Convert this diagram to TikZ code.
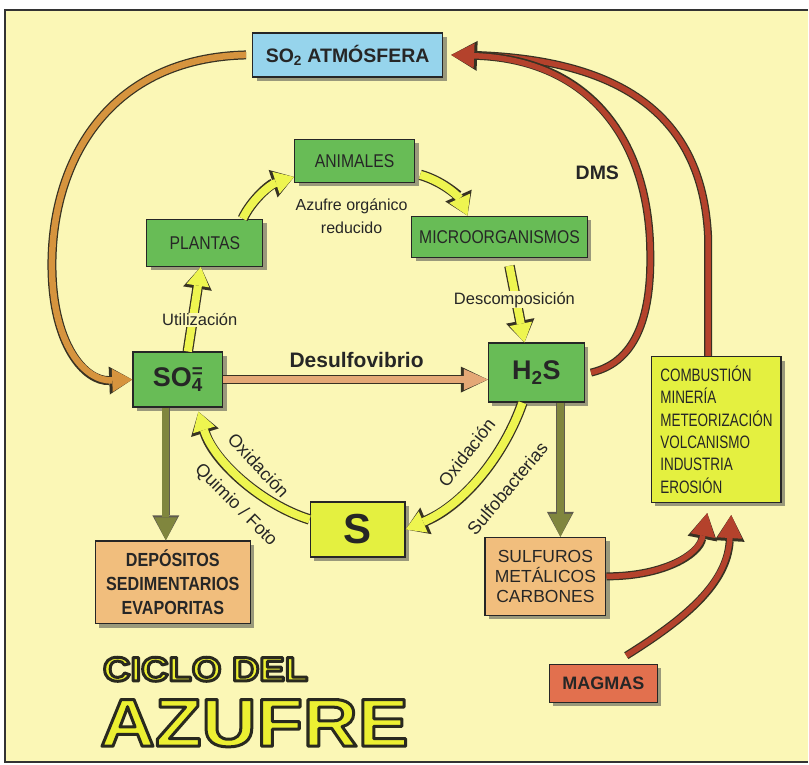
\documentclass[tikz,border=0pt]{standalone}
\usepackage{fontspec}
\setmainfont{Liberation Sans}
\newfontfamily\narrowsf[FakeStretch=0.85]{Liberation Sans}
\newfontfamily\condsf[FakeStretch=0.75]{Liberation Sans}
\newfontfamily\widesf[FakeStretch=1.12]{Liberation Sans}
\usepackage{xcolor}
\usetikzlibrary{arrows.meta, shadows}

\definecolor{paper}{RGB}{251,247,182}
\definecolor{leafgreen}{RGB}{104,188,86}
\definecolor{skyblue}{RGB}{150,212,236}
\definecolor{sulfuryellow}{RGB}{228,240,64}
\definecolor{tanbox}{RGB}{241,190,125}
\definecolor{magmared}{RGB}{226,112,78}
\definecolor{arrowyellow}{RGB}{238,245,80}
\definecolor{arrowtan}{RGB}{228,168,118}
\definecolor{arrowolive}{RGB}{128,134,62}
\definecolor{arroworange}{RGB}{214,148,62}
\definecolor{arrowred}{RGB}{180,66,44}
\definecolor{arrowedge}{RGB}{55,50,35}
\definecolor{titlefill}{RGB}{236,240,50}

% outlined title letters (fill + stroke render mode)
\newcommand{\titleoutline}[1]{\special{pdf:code 2 Tr 3 w 1 j 0.16 0.16 0.12 RG}#1\special{pdf:code 0 Tr}}

\begin{document}
\begin{tikzpicture}[x=1pt, y=-1pt,
    box/.style={rectangle, draw=black!85, line width=1.3pt, inner sep=0pt,
        align=center, text=black!85,
        drop shadow={shadow xshift=4pt, shadow yshift=-4pt, fill=black!70, opacity=.55}},
    greenbox/.style={box, fill=leafgreen, font=\narrowsf\fontsize{18.5}{20}\selectfont},
    tanfill/.style={box, fill=tanbox},
    lbl/.style={inner sep=1pt, text=black!85, font=\fontsize{16.5}{19}\selectfont},
    rotlbl/.style={inner sep=0pt, text=black!85, font=\fontsize{18}{20}\selectfont},
    yarrow/.style={draw=arrowyellow, line width=8pt,
        -{Triangle[length=19pt,width=23pt,line width=0pt]},
        preaction={draw=arrowedge, line width=10.5pt,
            -{Triangle[length=22pt,width=29pt,line width=0pt]}}},
    tanarrow/.style={draw=arrowtan, line width=6.5pt,
        -{Triangle[length=24pt,width=21pt,line width=0pt]},
        preaction={draw=arrowedge, line width=9pt,
            -{Triangle[length=27pt,width=26pt,line width=0pt]}}},
    olivearrow/.style={draw=arrowolive, line width=7pt,
        -{Triangle[length=23pt,width=23pt,line width=0pt]},
        preaction={draw=arrowedge!80, line width=8.5pt,
            -{Triangle[length=25pt,width=27pt,line width=0pt]}}},
    orangearrow/.style={draw=arroworange, line width=6.5pt,
        -{Triangle[length=20pt,width=23pt,line width=0pt]},
        preaction={draw=arrowedge, line width=9pt,
            -{Triangle[length=23pt,width=28pt,line width=0pt]}}},
    redline/.style={draw=arrowred, line width=5.5pt,
        preaction={draw=arrowedge, line width=8pt}},
    redarrow/.style={draw=arrowred, line width=5.5pt,
        -{Triangle[length=23pt,width=25pt,line width=0pt]},
        preaction={draw=arrowedge, line width=8pt,
            -{Triangle[length=26pt,width=30pt,line width=0pt]}}}
]
% frame
\fill[white] (0,0) rectangle (809,765);
\fill[paper] (5,10) rectangle (809,763);
\draw[line width=1.8pt, black!80] (809,10) -- (5,10) -- (5,763) -- (809,763);

% boxes
\node[box, fill=skyblue, minimum width=190pt, minimum height=44pt,
    font=\bfseries\fontsize{19.5}{21}\selectfont] (so2) at (348,55) {SO\textsubscript{2} ATMÓSFERA};
\node[greenbox, minimum width=120pt, minimum height=43pt] (animales) at (355,161) {ANIMALES};
\node[greenbox, minimum width=116pt, minimum height=47pt] (plantas) at (205,243) {PLANTAS};
\node[greenbox, minimum width=176pt, minimum height=41pt] (micro) at (500,237) {MICROORGANISMOS};
\node[greenbox, minimum width=90pt, minimum height=55pt,
    font=\bfseries\fontsize{27}{28}\selectfont] (so4) at (178,380) {SO\rlap{\textsuperscript{=}}\textsubscript{4}};
\node[greenbox, minimum width=96pt, minimum height=59pt,
    font=\bfseries\fontsize{27}{28}\selectfont] (h2s) at (537,373) {H\textsubscript{2}S};
\node[box, fill=sulfuryellow, minimum width=95pt, minimum height=55pt,
    font=\bfseries\fontsize{42}{44}\selectfont] (sbox) at (358,530) {S};
\node[tanfill, minimum width=155pt, minimum height=83pt,
    font=\narrowsf\bfseries\fontsize{19}{24}\selectfont] (depos) at (173,583) {DEPÓSITOS\\SEDIMENTARIOS\\EVAPORITAS};
\node[tanfill, minimum width=121pt, minimum height=78pt,
    font=\fontsize{17.5}{20}\selectfont] (sulf) at (546,577) {SULFUROS\\METÁLICOS\\CARBONES};
\node[box, fill=sulfuryellow, align=left, inner xsep=9pt, text width=112pt, minimum height=146pt,
    font=\condsf\fontsize{18}{22.4}\selectfont] (comb) at (717,430)
    {COMBUSTIÓN\\MINERÍA\\METEORIZACIÓN\\VOLCANISMO\\INDUSTRIA\\EROSIÓN};
\node[box, fill=magmared, minimum width=108pt, minimum height=38pt,
    font=\bfseries\fontsize{18}{20}\selectfont] (magmas) at (604,684) {MAGMAS};

% big cycle
\draw[orangearrow] ([xshift=-6pt]so2.west) .. controls (110,58) and (52,160) .. (52,265)
    .. controls (52,345) and (85,382) .. (so4.west);
\draw[redline] ([xshift=-8pt]comb.north) -- (709,240)
    .. controls (705,130) and (640,60) .. ([xshift=30pt]so2.east);
\draw[redarrow] ([xshift=6pt]h2s.east) .. controls (640,362) and (652,310) .. (651,253)
    .. controls (650,140) and (590,60) .. ([xshift=8pt]so2.east);

% organic loop
\draw[yarrow] ([xshift=38pt]plantas.north) .. controls (252,200) and (270,185) .. ([yshift=6pt]animales.south west);
\draw[yarrow] ([xshift=5pt,yshift=-14pt]animales.east) .. controls (445,182) and (460,198) .. ([xshift=-32pt]micro.north);
\draw[yarrow] ([xshift=10pt,yshift=-8pt]micro.south) -- ([xshift=-12pt]h2s.north);
\draw[yarrow] ([xshift=10pt]so4.north) -- ([xshift=-4pt]plantas.south);

% sulphur reactions
\draw[tanarrow] (so4.east) -- (so4.east -| h2s.west);
\draw[yarrow] ([yshift=10pt]sbox.west) .. controls (262,505) and (214,462) .. ([xshift=-25pt,yshift=-4pt]so4.south east);
\draw[yarrow] ([xshift=-14pt]h2s.south) .. controls (505,455) and (465,505) .. (sbox.east);
\draw[olivearrow] ([xshift=-12pt]so4.south) -- ([xshift=-12pt]so4.south |- depos.north);
\draw[olivearrow] ([xshift=24pt]h2s.south) -- ([xshift=24pt]h2s.south |- sulf.north);

% sources
\draw[redarrow] (sulf.east) .. controls (665,577) and (700,555) .. ([xshift=-9pt,yshift=-10pt]comb.south);
\draw[redarrow] ([xshift=23pt,yshift=8pt]magmas.north) .. controls (685,620) and (728,585) .. ([xshift=15pt,yshift=-12pt]comb.south);

% labels
\node[lbl, font=\bfseries\fontsize{19.5}{21}\selectfont] (dms) at (598,173) {DMS};
\node[lbl, align=center, font=\fontsize{16}{23}\selectfont] (azufreorg) at (352,216) {Azufre orgánico\\reducido};
\node[lbl, fill=paper] (descomp) at (515,300) {Descomposición};
\node[lbl, fill=paper] (utiliz) at (200,320) {Utilización};
\node[lbl, font=\bfseries\fontsize{21}{23}\selectfont] (desulfo) at (357,360) {Desulfovibrio};
\node[rotlbl, rotate=-47] (oxleft) at (259,466) {Oxidación};
\node[rotlbl, rotate=-45] (quimio) at (236,506) {Quimio / Foto};
\node[rotlbl, rotate=52] (oxright) at (467,453) {Oxidación};
\node[rotlbl, rotate=50] (sulfob) at (508,489) {Sulfobacterias};

% title
\node[anchor=west, inner sep=0pt, text=titlefill,
    font=\widesf\bfseries\fontsize{34}{38}\selectfont] (ciclo) at (103,670) {\titleoutline{CICLO DEL}};
\node[anchor=west, inner sep=0pt, text=titlefill,
    font=\widesf\bfseries\fontsize{68}{70}\selectfont] (azufre) at (100,724) {\titleoutline{AZUFRE}};
\end{tikzpicture}
\end{document}
